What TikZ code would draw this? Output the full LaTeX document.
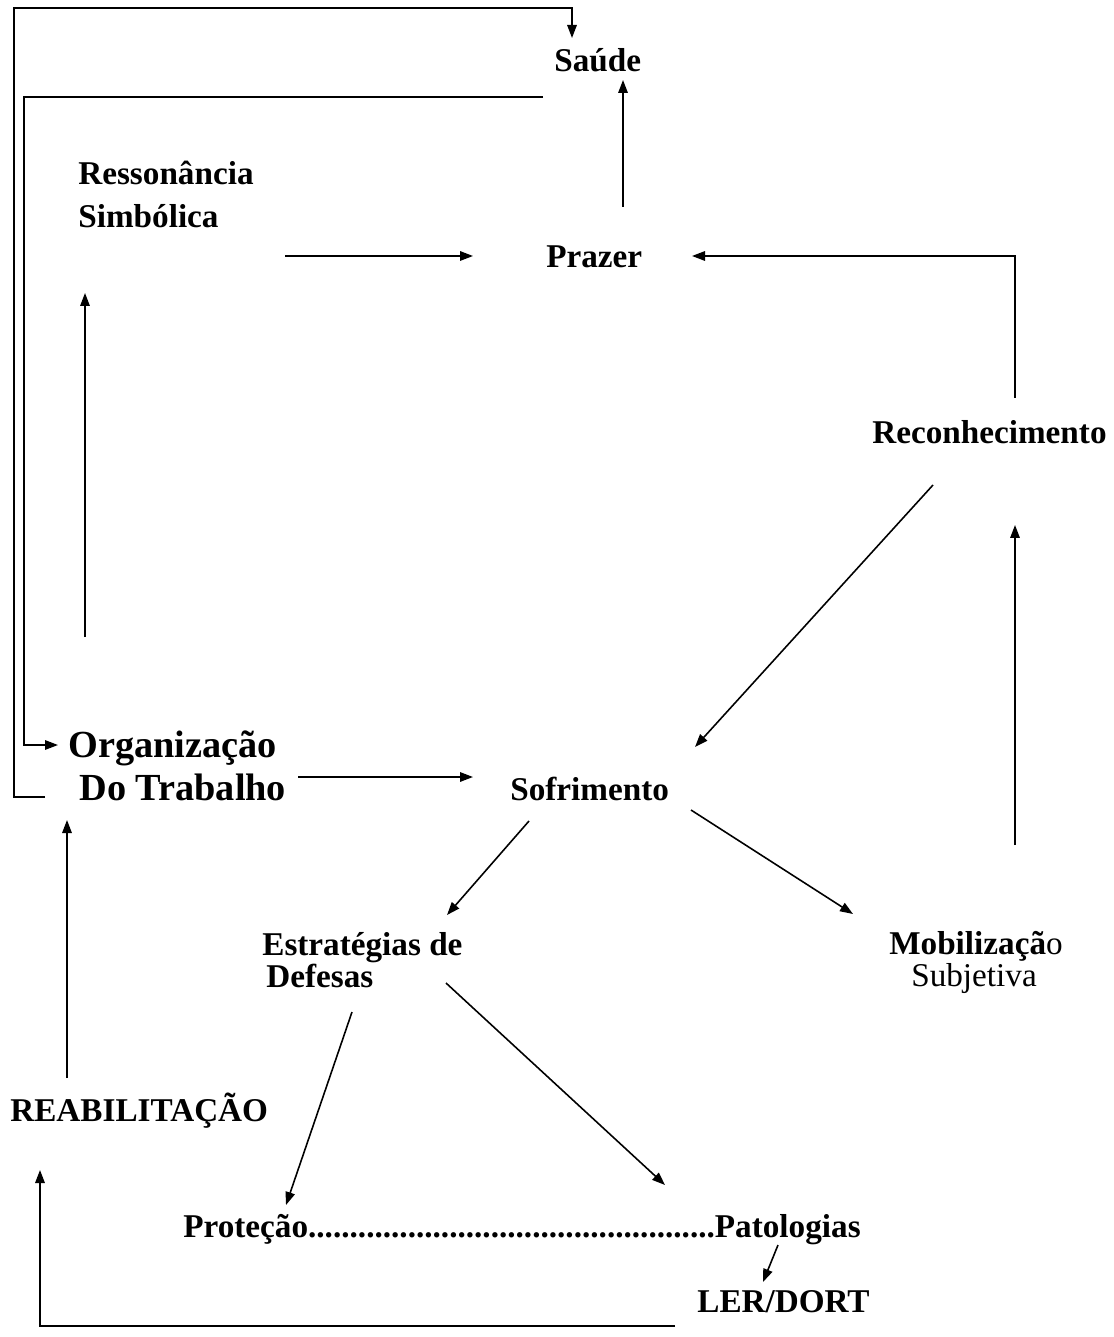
\documentclass[tikz,border=0pt]{standalone}
\usepackage{fontspec}
\setmainfont{Liberation Serif}
\usetikzlibrary{calc,arrows.meta}
\tikzset{
  lbl/.style={inner sep=0pt,anchor=base west,font=\fontsize{18.9}{22}\selectfont\bfseries},
  big/.style={inner sep=0pt,anchor=base west,font=\fontsize{21.8}{26}\selectfont\bfseries},
  arr/.style={line width=0.9pt,-{Triangle[length=0.26cm,width=0.19cm]}},
  ln/.style={line width=0.9pt}
}
\begin{document}
\begin{tikzpicture}[x=0.02cm,y=-0.02cm]
\useasboundingbox (0,0) rectangle (1114,1337);
% nodes
\node[lbl] (saude) at (554,72) {Saúde};
\node[lbl] (ress1) at (78,185) {Ressonância};
\node[lbl] (ress2) at (78,228) {Simbólica};
\node[lbl] (prazer) at (546,268) {Prazer};
\node[lbl] (recon) at (872,443) {Reconhecimento};
\node[big] (org1) at (68,757) {Organização};
\node[big] (org2) at (79,800) {Do Trabalho};
\node[lbl] (sofr) at (510,800) {Sofrimento};
\node[lbl] (estr1) at (262,955) {Estratégias de};
\node[lbl] (estr2) at (266,987) {Defesas};
\node[lbl,anchor=base] (mob1) at (976,954) {Mobilizaçã{\mdseries o}};
\node[lbl,anchor=base,font=\fontsize{18.9}{22}\selectfont] (mob2) at (974,986) {Subjetiva};
\node[lbl] (reab) at (10,1121) {REABILITAÇÃO};
\node[lbl] (protpat) at (183,1237) {Proteção.................................................Patologias};
\node[lbl] (ler) at (697,1312) {LER/DORT};
% connectors
\draw[arr] ($(org2.base west)+(-34,-3)$) -- ++(-31,0) |- ($(saude.base west)+(18,-64)$) -- ($(saude.base west)+(18,-34)$);
\draw[arr] ($(saude.base west)+(-11,25)$) -- ++(-519,0) |- ($(org1.base west)+(-10,-12)$);
\draw[arr] ($(prazer.base west)+(77,-61)$) -- ($(saude.base west)+(69,8)$);
\draw[arr] ($(ress2.base west)+(207,28)$) -- ($(prazer.base west)+(-73,-12)$);
\draw[arr] ($(recon.base west)+(143,-45)$) |- ($(prazer.base west)+(146,-12)$);
\draw[arr] ($(recon.base west)+(61,42)$) -- ($(sofr.base west)+(185,-53)$);
\draw[arr] ($(org1.base west)+(17,-120)$) -- ($(ress2.base west)+(7,65)$);
\draw[arr] ($(org2.base west)+(219,-23)$) -- ($(sofr.base west)+(-37,-23)$);
\draw[arr] ($(mob1.base)+(39,-109)$) -- ($(recon.base west)+(143,82)$);
\draw[arr] ($(sofr.base west)+(181,10)$) -- ($(mob1.base)+(-123,-40)$);
\draw[arr] ($(sofr.base west)+(19,21)$) -- ($(estr1.base west)+(185,-40)$);
\draw[arr] ($(estr2.base west)+(86,25)$) -- ($(protpat.base west)+(103,-32)$);
\draw[arr] ($(estr1.base west)+(184,28)$) -- ($(protpat.base west)+(482,-52)$);
\draw[arr] ($(protpat.base west)+(595,8)$) -- ($(ler.base west)+(66,-30)$);
\draw[arr] ($(ler.base west)+(-22,14)$) -| ($(reab.base west)+(30,49)$);
\draw[arr] ($(reab.base west)+(57,-43)$) -- ($(org2.base west)+(-12,20)$);
\end{tikzpicture}
\end{document}
